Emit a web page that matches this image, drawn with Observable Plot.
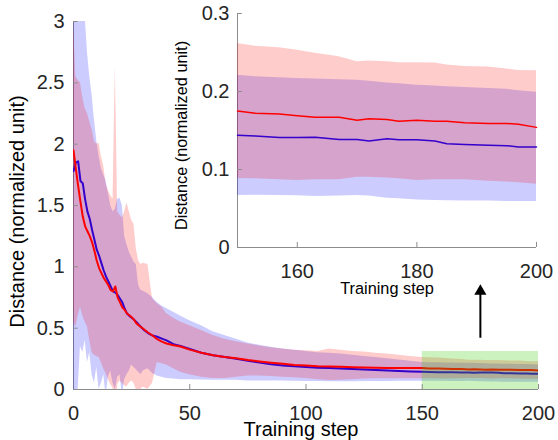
<!DOCTYPE html>
<html><head><meta charset="utf-8">
<script src="https://cdn.jsdelivr.net/npm/d3@7"></script>
<script src="https://cdn.jsdelivr.net/npm/@observablehq/plot@0.6"></script>
<style>
body{margin:0;background:#fff;}
#wrap{position:relative;width:558px;height:440px;overflow:hidden;background:#fff;}
#wrap svg{position:absolute;}
</style></head><body><div id="wrap"></div>
<script>
const steps = [
  0,1,2,3,4,5,6,7,8,9,
  10,11,12,13,14,15,16,17,18,19,
  20,21,22,23,24,25,26,27,28,29,30,
  32,34,36,38,40,43,46,50,
  55,60,65,70,75,80,85,90,95,100,
  105,110,115,120,125,130,135,140,145,150,
  153,157,160,163,167,170,172,175,177,
  180,183,185,188,192,195,197,200];
const redMean = [
  1.95,1.80,1.66,1.53,1.41,1.33,1.29,1.25,1.20,1.13,
  1.05,0.99,0.95,0.91,0.88,0.85,0.81,0.80,0.84,0.75,
  0.71,0.67,0.65,0.62,0.605,0.59,0.57,0.54,0.525,0.51,0.495,
  0.465,0.44,0.41,0.39,0.375,0.36,0.35,0.325,
  0.30,0.28,0.265,0.255,0.24,0.228,0.218,0.21,0.20,0.196,
  0.19,0.188,0.185,0.182,0.179,0.177,0.176,0.176,0.176,0.175,
  0.172,0.171,0.169,0.167,0.167,0.163,0.165,0.164,0.162,
  0.163,0.162,0.162,0.160,0.159,0.159,0.158,0.154];
const blueMean = [
  1.78,1.85,1.86,1.70,1.68,1.55,1.45,1.39,1.30,1.22,
  1.14,1.09,1.03,0.97,0.92,0.88,0.84,0.80,0.79,0.77,
  0.74,0.71,0.66,0.62,0.60,0.585,0.57,0.55,0.53,0.51,0.49,
  0.46,0.44,0.43,0.415,0.40,0.37,0.355,0.33,
  0.30,0.28,0.265,0.25,0.235,0.22,0.205,0.195,0.19,0.183,
  0.178,0.175,0.172,0.168,0.163,0.158,0.154,0.151,0.147,0.144,
  0.143,0.141,0.141,0.1415,0.1386,0.1386,0.1365,0.1395,0.138,
  0.138,0.1365,0.133,0.132,0.131,0.1305,0.129,0.129];
const redHi = [
  3.00,2.55,2.52,2.50,2.38,2.29,2.25,2.18,2.12,2.02,
  2.00,2.01,1.90,1.82,1.68,1.62,1.58,1.55,2.64,1.45,
  1.42,1.40,1.45,1.52,1.45,1.38,1.35,1.15,1.05,1.02,1.03,
  1.02,0.74,0.70,0.67,0.62,0.58,0.55,0.52,
  0.48,0.44,0.41,0.39,0.37,0.355,0.34,0.33,0.32,0.315,
  0.31,0.33,0.32,0.31,0.305,0.295,0.29,0.28,0.27,0.2615,
  0.258,0.256,0.253,0.249,0.2445,0.238,0.239,0.238,0.237,
  0.237,0.2365,0.234,0.232,0.2315,0.229,0.227,0.2265];
const redLo = [
  0.55,0.51,0.60,0.67,0.60,0.55,0.51,0.40,0.30,0.28,
  0.27,0.26,0.22,0.17,0.13,0.08,0.04,0.01,-0.30,0.04,
  0.07,0.05,0.03,0.02,0.05,0.07,0.05,0.00,-0.02,0.00,0.02,
  0.00,0.05,0.22,0.21,0.20,0.17,0.14,0.12,
  0.10,0.09,0.09,0.10,0.11,0.11,0.105,0.10,0.095,0.09,
  0.08,0.073,0.075,0.08,0.085,0.087,0.088,0.088,0.088,0.0885,
  0.088,0.087,0.086,0.087,0.087,0.090,0.090,0.089,0.088,
  0.086,0.087,0.087,0.087,0.085,0.084,0.083,0.081];
const blueHi = [
  3.30,3.30,3.30,3.30,3.30,3.05,2.75,2.55,2.40,2.20,
  2.03,1.90,1.80,1.75,1.70,1.60,1.50,1.45,1.47,1.55,
  1.56,1.50,1.25,1.18,1.12,1.08,1.04,1.02,0.85,0.81,0.80,
  0.78,0.75,0.71,0.68,0.66,0.63,0.60,0.56,
  0.52,0.47,0.44,0.41,0.38,0.36,0.345,0.33,0.32,0.31,
  0.30,0.295,0.29,0.28,0.27,0.26,0.25,0.24,0.23,0.2208,
  0.219,0.2175,0.2166,0.216,0.215,0.2144,0.213,0.211,0.210,
  0.208,0.207,0.206,0.205,0.204,0.203,0.201,0.199];
const blueLo = [
  -0.10,-0.10,0.00,0.35,0.30,0.40,0.22,0.30,0.12,0.05,
  0.18,0.00,0.05,0.12,-0.05,0.10,0.15,0.05,0.00,0.10,
  0.12,-0.05,0.08,0.12,0.15,0.20,0.18,0.16,0.14,0.12,0.15,
  0.17,0.13,0.11,0.10,0.09,0.085,0.08,0.08,
  0.078,0.075,0.075,0.075,0.07,0.07,0.07,0.07,0.068,0.066,
  0.065,0.064,0.063,0.064,0.065,0.066,0.066,0.067,0.067,0.0668,
  0.067,0.0668,0.0665,0.0655,0.066,0.0668,0.066,0.063,0.0625,
  0.061,0.0603,0.060,0.0595,0.0595,0.059,0.059,0.059];

const xTicksMain = [0,50,100,150,200];
const yTicksMain = [0,0.5,1,1.5,2,2.5,3];
const xTicksInset = [160,180,200];
const yTicksInset = [0,0.1,0.2,0.3];
const xLabel = "Training step";
const yLabel = "Distance (normalized unit)";
const zoomBox = [{x1:150, x2:200, y1:0, y2:0.31}];
const arrowPts = [{x:175, y1:0.418, y2:0.78, head:0.80}];

const rows = steps.map((s,i)=>({step:s, rm:redMean[i], bm:blueMean[i], rhi:redHi[i], rlo:redLo[i], bhi:blueHi[i], blo:blueLo[i]}));
const insetRows = rows.filter(d=>d.step>=150);

const FONT = '"Liberation Sans", Arial, Helvetica, sans-serif';
const AX = "#8c8c8c";
const TXT = "#262626";

const main = Plot.plot({
  width:558, height:440, marginLeft:73, marginRight:20, marginTop:21, marginBottom:51,
  style:{fontFamily:FONT, fontSize:"20px", color:TXT, background:"transparent"},
  x:{domain:[0,200]}, y:{domain:[0,3]},
  marks:[
    Plot.ruleY([0],{stroke:AX}),
    Plot.ruleX([0],{stroke:AX}),
    Plot.areaY(rows,{x:"step",y1:"blo",y2:"bhi",fill:"#0000ff",fillOpacity:0.2,clip:true}),
    Plot.areaY(rows,{x:"step",y1:"rlo",y2:"rhi",fill:"#ff0000",fillOpacity:0.2,clip:true}),
    Plot.lineY(rows,{x:"step",y:"bm",stroke:"#3300cc",strokeWidth:2,clip:true}),
    Plot.lineY(rows,{x:"step",y:"rm",stroke:"#ff0000",strokeWidth:2,clip:true}),
    Plot.rect(zoomBox,{x1:"x1",x2:"x2",y1:"y1",y2:"y2",fill:"#33cc00",fillOpacity:0.25}),
    Plot.ruleX(xTicksMain.filter(d=>d>0),{y1:0,y2:0.04,stroke:AX}),
    Plot.ruleY(yTicksMain.filter(d=>d>0),{x1:0,x2:2,stroke:AX}),
    Plot.axisX({ticks:xTicksMain, tickSize:0, tickPadding:16, label:null, tickFormat:d=>String(d)}),
    Plot.axisY({ticks:yTicksMain, tickSize:0, tickPadding:9, label:null, tickFormat:d=>String(d)}),
    Plot.text([xLabel],{text:d=>d, frameAnchor:"bottom", textAnchor:"middle", lineAnchor:"middle", dy:40, dx:-5, fontSize:20, fill:"#000"}),
    Plot.text([yLabel],{text:d=>d, frameAnchor:"left", textAnchor:"middle", lineAnchor:"middle", rotate:-90, dx:-55.5, dy:6, fontSize:20, fill:"#000"}),
    Plot.ruleX(arrowPts,{x:"x", y1:"y1", y2:"y2", stroke:"#000", strokeWidth:2}),
    Plot.dot(arrowPts,{x:"x", y:"head", symbol:"triangle", r:4.5, fill:"#000", stroke:"none"})
  ]
});
main.style.left = "0px"; main.style.top = "0px";

const inset = Plot.plot({
  width:398, height:300, marginLeft:77, marginRight:22, marginTop:13, marginBottom:53,
  style:{fontFamily:FONT, fontSize:"20px", color:TXT, background:"transparent"},
  x:{domain:[150,200]}, y:{domain:[0,0.3]},
  marks:[
    Plot.ruleY([0],{stroke:AX}),
    Plot.ruleX([150],{stroke:AX}),
    Plot.areaY(insetRows,{x:"step",y1:"blo",y2:"bhi",fill:"#0000ff",fillOpacity:0.2}),
    Plot.areaY(insetRows,{x:"step",y1:"rlo",y2:"rhi",fill:"#ff0000",fillOpacity:0.2}),
    Plot.lineY(insetRows,{x:"step",y:"bm",stroke:"#3300cc",strokeWidth:1.5}),
    Plot.lineY(insetRows,{x:"step",y:"rm",stroke:"#ff0000",strokeWidth:1.5}),
    Plot.ruleX(xTicksInset,{y1:0,y2:0.0065,stroke:AX}),
    Plot.ruleY(yTicksInset.filter(d=>d>0),{x1:150,x2:150.8,stroke:AX}),
    Plot.axisX({ticks:xTicksInset, tickSize:0, tickPadding:16, label:null, tickFormat:d=>String(d)}),
    Plot.axisY({ticks:yTicksInset, tickSize:0, tickPadding:8, label:null, tickFormat:d=>String(d)}),
    Plot.text([xLabel],{text:d=>d, frameAnchor:"bottom", textAnchor:"middle", lineAnchor:"middle", dy:41, fontSize:16.3, fill:"#000"}),
    Plot.text([yLabel],{text:d=>d, frameAnchor:"left", textAnchor:"middle", lineAnchor:"middle", rotate:-90, dx:-55.5, dy:5, fontSize:16.3, fill:"#000"})
  ]
});
inset.style.left = "160px"; inset.style.top = "0px";

const wrap = document.getElementById("wrap");
wrap.appendChild(main);
wrap.appendChild(inset);
</script>
</body></html>
